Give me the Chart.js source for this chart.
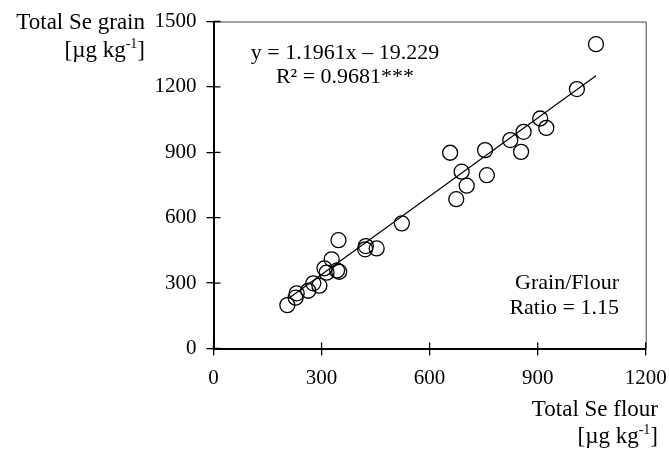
<!DOCTYPE html>
<html>
<head>
<meta charset="utf-8">
<script src="https://cdn.jsdelivr.net/npm/chart.js@4.4.0/dist/chart.umd.min.js"></script>
<style>
html,body{margin:0;padding:0;background:#fff;}
#wrap{width:669px;height:449px;position:relative;}
</style>
</head>
<body>
<div id="wrap"><canvas id="c" width="669" height="449"></canvas></div>
<script>
// Data
const flourSe = [1062,1009,907,924,861,824,854,754,759,657,689,703,674,523,347,423,421,453,328,308,314,349,343,277,294,263,231,228,205];
const grainSe = [1396,1190,1055,1012,994,956,902,910,795,898,811,747,685,574,497,470,455,459,409,368,348,352,358,299,288,265,253,233,199];
const xTicks = [0,300,600,900,1200];
const yTicks = [0,300,600,900,1200,1500];
const fitSlope = 1.1961, fitIntercept = -19.229;
const fitRange = [210, 1062];

const FONT = 'Liberation Serif';
const FS = 21;   // tick labels
const FA = 22;   // annotations
const FT = 23;   // axis titles

const points = flourSe.map((x,i)=>({x:x,y:grainSe[i]}));
const fitPts = fitRange.map(x=>({x:x,y:fitSlope*x+fitIntercept}));

const decor = {
  id:'decor',
  afterDraw(chart){
    const ctx = chart.ctx, ca = chart.chartArea;
    const xs = chart.scales.x, ys = chart.scales.y;
    ctx.save();
    // top & right frame
    ctx.strokeStyle = '#444'; ctx.lineWidth = 1;
    ctx.beginPath();
    ctx.moveTo(ca.left, ca.top+0.5); ctx.lineTo(ca.right+0.5, ca.top+0.5); ctx.lineTo(ca.right+0.5, ca.bottom);
    ctx.stroke();
    // inner halves of ticks
    ctx.strokeStyle = '#000'; ctx.lineWidth = 1.3;
    ctx.beginPath();
    xTicks.forEach(v=>{const p=xs.getPixelForValue(v); ctx.moveTo(p,ca.bottom); ctx.lineTo(p,ca.bottom-6);});
    yTicks.forEach(v=>{const p=ys.getPixelForValue(v); ctx.moveTo(ca.left,p); ctx.lineTo(ca.left+7,p);});
    ctx.stroke();
    ctx.fillStyle = '#000';
    ctx.font = FA+'px "'+FONT+'"';
    ctx.textBaseline = 'alphabetic';
    // equation
    ctx.textAlign = 'center';
    ctx.fillText('y = 1.1961x \u2013 19.229', 345, 59);
    ctx.fillText('R\u00B2 = 0.9681***', 345, 83);
    // ratio
    ctx.textAlign = 'right';
    ctx.fillText('Grain/Flour', 619, 289);
    ctx.fillText('Ratio = 1.15', 619, 314);
    // axis titles
    function unit(rightX, base){
      const fsmall = Math.round(FT*0.62)+'px "'+FONT+'"';
      const fbig = FT+'px "'+FONT+'"';
      ctx.font = fbig;
      const a='[\u00B5g kg', b='-1', c=']';
      const wa=ctx.measureText(a).width, wc=ctx.measureText(c).width;
      ctx.font = fsmall;
      const wb=ctx.measureText(b).width;
      let x = rightX - wa - wb - wc;
      ctx.textAlign='left';
      ctx.font = fbig;
      ctx.fillText(a, x, base);
      ctx.font = fsmall;
      ctx.fillText(b, x+wa, base-9);
      ctx.font = fbig;
      ctx.fillText(c, x+wa+wb, base);
    }
    ctx.font = FT+'px "'+FONT+'"';
    ctx.textAlign='right';
    ctx.fillText('Total Se grain', 145, 29);
    unit(145, 57);
    ctx.font = FT+'px "'+FONT+'"';
    ctx.textAlign='right';
    ctx.fillText('Total Se flour', 658, 416);
    unit(658, 443);
    ctx.restore();
  }
};

new Chart(document.getElementById('c'), {
  type:'scatter',
  data:{datasets:[
    {data:points, pointRadius:7.5, pointHoverRadius:7.5, pointBackgroundColor:'rgba(0,0,0,0)', pointBorderColor:'#000', pointBorderWidth:1.3, order:2},
    {type:'line', data:fitPts, borderColor:'#000', borderWidth:1.2, pointRadius:0, fill:false, order:1}
  ]},
  options:{
    responsive:false, animation:false, devicePixelRatio:1,
    layout:{padding:{top:21.5,right:23.3,left:0,bottom:0}},
    plugins:{legend:{display:false}, tooltip:{enabled:false}},
    scales:{
      x:{type:'linear', min:0, max:1200,
        afterBuildTicks:s=>{s.ticks = xTicks.map(v=>({value:v}));},
        afterFit:s=>{s.height = 100.5; s.paddingLeft = 0; s.paddingRight = 0;},
        ticks:{font:{family:FONT,size:FS}, color:'#000', padding:10, maxRotation:0, autoSkip:false, callback:v=>String(v)},
        grid:{display:true, drawOnChartArea:false, drawTicks:true, tickLength:7, color:'#000', lineWidth:1.3},
        border:{display:true, color:'#000', width:2}
      },
      y:{type:'linear', min:0, max:1500,
        afterBuildTicks:s=>{s.ticks = yTicks.map(v=>({value:v}));},
        afterFit:s=>{s.width = 213.5; s.paddingTop = 0; s.paddingBottom = 0;},
        ticks:{font:{family:FONT,size:FS}, color:'#000', padding:10, autoSkip:false, callback:v=>String(v)},
        grid:{display:true, drawOnChartArea:false, drawTicks:true, tickLength:7, color:'#000', lineWidth:1.3},
        border:{display:true, color:'#000', width:2}
      }
    }
  },
  plugins:[decor]
});
</script>
</body>
</html>
